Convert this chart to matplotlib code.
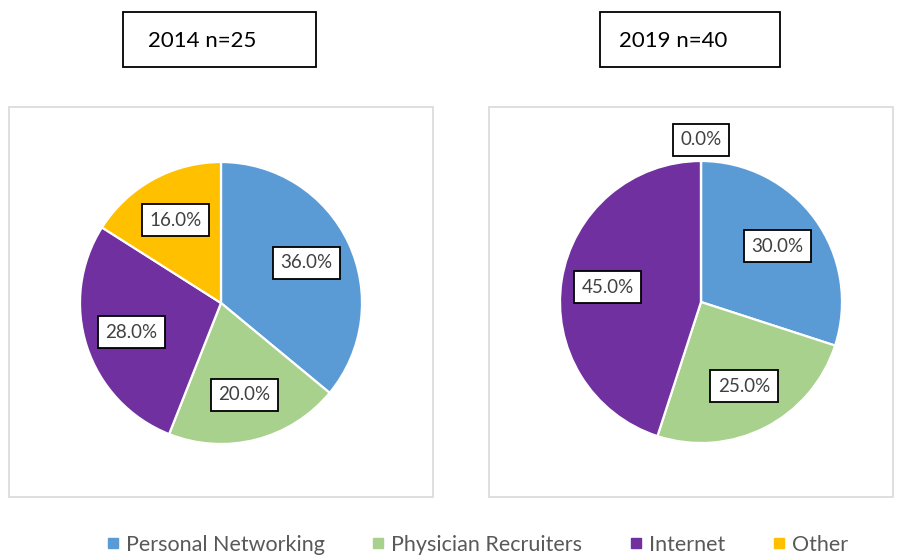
import matplotlib.pyplot as plt
from matplotlib.patches import Rectangle
from matplotlib.lines import Line2D
import numpy as np

plt.rcParams['font.family'] = ['Lato', 'DejaVu Sans']

# data
categories = ['Personal Networking', 'Physician Recruiters', 'Internet', 'Other']
colors = ['#5B9BD5', '#A9D18E', '#7030A0', '#FFC000']
titles = ['2014 n=25', '2019 n=40']
vals_2014 = [36.0, 20.0, 28.0, 16.0]
vals_2019 = [30.0, 25.0, 45.0, 0.0]

W, H = 902, 558
fig = plt.figure(figsize=(W / 100, H / 100), dpi=100)


def px_rect(x0, y0, x1, y1, **kw):
    # rectangle in pixel coords measured from top-left
    r = Rectangle((x0 / W, 1 - y1 / H), (x1 - x0) / W, (y1 - y0) / H,
                  transform=fig.transFigure, fill=False, **kw)
    fig.add_artist(r)


def draw_pie(vals, cx, cy, rad, lim=1.3):
    side = 2 * lim * rad
    ax = fig.add_axes([(cx - side / 2) / W, 1 - (cy + side / 2) / H, side / W, side / H])
    wedges, _ = ax.pie(vals, colors=colors, startangle=90, counterclock=False,
                       wedgeprops=dict(edgecolor='white', linewidth=1.6))
    for w, v in zip(wedges, vals):
        ang = np.deg2rad((w.theta1 + w.theta2) / 2)
        d = 0.67 if v > 0 else 1.15
        ax.text(d * np.cos(ang), d * np.sin(ang), '%.1f%%' % v, ha='center', va='center',
                fontsize=13.5, color='#404040',
                bbox=dict(boxstyle='square,pad=0.4', fc='white', ec='black', lw=1.3))
    ax.set_xlim(-lim, lim)
    ax.set_ylim(-lim, lim)
    ax.set_aspect('equal')
    ax.axis('off')


# chart area frames
px_rect(9, 107, 433, 497, ec='#D9D9D9', lw=1.2)
px_rect(489, 107, 893, 497, ec='#D9D9D9', lw=1.2)

draw_pie(vals_2014, 221, 303, 141)
draw_pie(vals_2019, 701, 302, 141)

# title boxes
px_rect(123, 12, 316, 67, ec='black', lw=1.3)
px_rect(600, 12, 780, 67, ec='black', lw=1.3)
fig.text(202 / W, 1 - 41 / H, titles[0], ha='center', va='center', fontsize=16, color='black')
fig.text(673 / W, 1 - 41 / H, titles[1], ha='center', va='center', fontsize=16, color='black')

handles = [Line2D([], [], marker='s', ls='none', color=c, markersize=7) for c in colors]
fig.legend(handles, categories, loc='center', bbox_to_anchor=(475 / W, 1 - 545 / H), ncol=4,
           frameon=False, fontsize=15.5, handletextpad=0.1, columnspacing=2.0,
           handlelength=1.0, labelcolor='#595959')

plt.savefig('out.png', dpi=100)
